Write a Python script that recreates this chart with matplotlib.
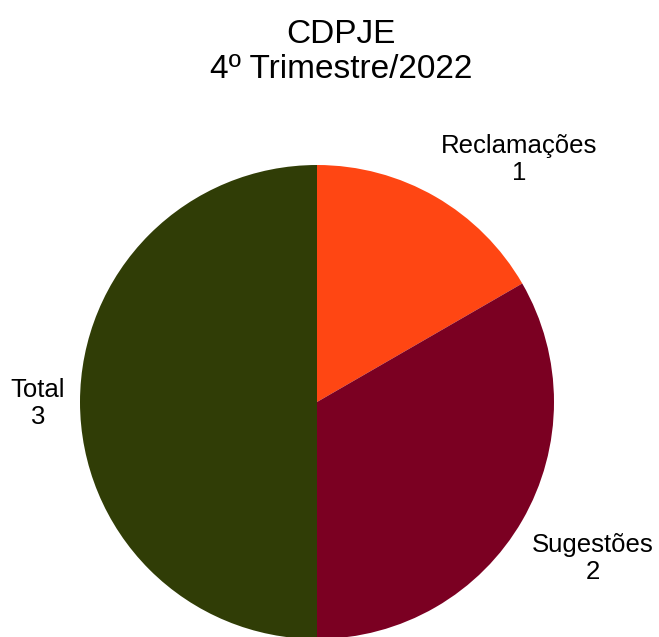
import matplotlib
matplotlib.use("Agg")
import matplotlib.pyplot as plt

categories = ["Reclamações", "Sugestões", "Total"]
values = [1, 2, 3]
colors = ["#FF4613", "#7B0022", "#303D06"]
title = "CDPJE\n4º Trimestre/2022"

plt.rcParams['font.family'] = ['Liberation Sans', 'DejaVu Sans']

W, H = 659, 637
fig = plt.figure(figsize=(W / 100, H / 100), dpi=100)
cx, cy, r = 317, 402, 237
ax = fig.add_axes([(cx - r) / W, (H - cy - r) / H, 2 * r / W, 2 * r / H])
wedges, _ = ax.pie(values, colors=colors, startangle=90, counterclock=False,
                   radius=1, wedgeprops=dict(linewidth=0))
ax.set_xlim(-1, 1)
ax.set_ylim(-1, 1)
ax.set_aspect('auto')
ax.axis('off')

label_pos = [(0.852, 1.025), (1.165, -0.662), (-1.177, -0.008)]
for cat, val, (lx, ly) in zip(categories, values, label_pos):
    ax.text(lx, ly, f"{cat}\n{val}", ha='center', va='center', fontsize=18.5,
            linespacing=1.15, color='black', clip_on=False)

fig.text(341 / W, 1 - 52 / H, title, ha='center', va='center', fontsize=24,
         linespacing=1.15)

fig.savefig("out.png", dpi=100, facecolor='white')
